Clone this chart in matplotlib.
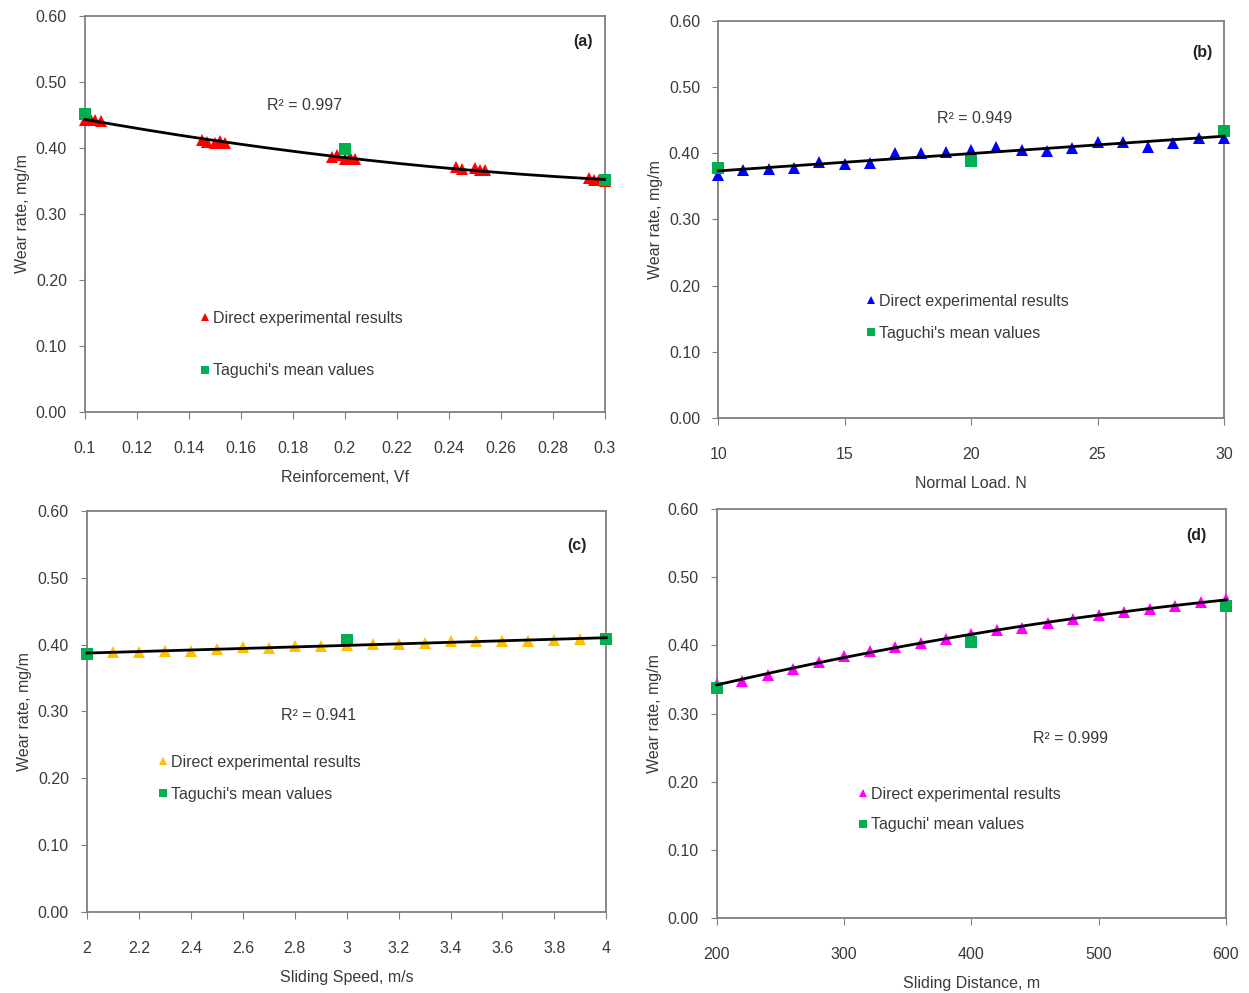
import numpy as np
import matplotlib
matplotlib.use('Agg')
import matplotlib.pyplot as plt

plt.rcParams['font.family'] = ['Liberation Sans', 'DejaVu Sans']

# (a) reinforcement
vf_direct = [0.100, 0.102, 0.104, 0.106, 0.145, 0.147, 0.150, 0.152, 0.154,
             0.195, 0.197, 0.200, 0.202, 0.204, 0.243, 0.245, 0.250, 0.252, 0.254,
             0.294, 0.296, 0.298, 0.300]
wr_vf_direct = [0.442, 0.445, 0.443, 0.441, 0.412, 0.409, 0.407, 0.410, 0.407,
                0.386, 0.389, 0.384, 0.387, 0.384, 0.371, 0.368, 0.369, 0.366, 0.366,
                0.354, 0.352, 0.351, 0.350]
vf_taguchi = [0.1, 0.2, 0.3]
wr_vf_taguchi = [0.451, 0.398, 0.352]

# (b) normal load
load_direct = list(range(10, 31))
wr_load_direct = [0.367, 0.374, 0.376, 0.377, 0.387, 0.384, 0.385, 0.400, 0.400, 0.402,
                  0.405, 0.410, 0.405, 0.404, 0.408, 0.417, 0.417, 0.410, 0.416, 0.423, 0.423]
load_taguchi = [10, 20, 30]
wr_load_taguchi = [0.377, 0.388, 0.433]

# (c) sliding speed
speed_direct = [2.0, 2.1, 2.2, 2.3, 2.4, 2.5, 2.6, 2.7, 2.8, 2.9, 3.0,
                3.1, 3.2, 3.3, 3.4, 3.5, 3.6, 3.7, 3.8, 3.9, 4.0]
wr_speed_direct = [0.386, 0.389, 0.389, 0.391, 0.391, 0.393, 0.396, 0.395, 0.398, 0.398, 0.399,
                   0.401, 0.401, 0.402, 0.405, 0.405, 0.406, 0.406, 0.407, 0.409, 0.410]
speed_taguchi = [2, 3, 4]
wr_speed_taguchi = [0.386, 0.407, 0.409]

# (d) sliding distance
dist_direct = list(range(200, 601, 20))
wr_dist_direct = [0.343, 0.348, 0.357, 0.366, 0.376, 0.384, 0.392, 0.398, 0.403, 0.410, 0.417,
                  0.422, 0.426, 0.433, 0.439, 0.444, 0.449, 0.453, 0.458, 0.464, 0.468]
dist_taguchi = [200, 400, 600]
wr_dist_taguchi = [0.338, 0.405, 0.458]

panels = [
    dict(rect=[0.068, 0.585, 0.416, 0.399], x=vf_direct, y=wr_vf_direct, tx=vf_taguchi, ty=wr_vf_taguchi,
         color='#FF0000', xlim=(0.1, 0.3), xticks=np.arange(0.1, 0.301, 0.02), deg=2,
         xticklabels=['0.1', '0.12', '0.14', '0.16', '0.18', '0.2', '0.22', '0.24', '0.26', '0.28', '0.3'],
         xlabel='Reinforcement, Vf', tag='(a)', r2='R² = 0.997', r2pos=(0.423, 0.775),
         leg=(0.207, 0.276), legsp=2.35, tagpos=(0.978, 0.935), tlab="Taguchi's mean values"),
    dict(rect=[0.575, 0.579, 0.405, 0.400], x=load_direct, y=wr_load_direct, tx=load_taguchi, ty=wr_load_taguchi,
         color='#0000FF', xlim=(10, 30), xticks=[10, 15, 20, 25, 30], deg=1,
         xticklabels=['10', '15', '20', '25', '30'],
         xlabel='Normal Load. N', tag='(b)', r2='R² = 0.949', r2pos=(0.506, 0.755),
         leg=(0.277, 0.333), legsp=1.05, tagpos=(0.978, 0.92), tlab="Taguchi's mean values"),
    dict(rect=[0.0697, 0.0816, 0.4157, 0.4038], x=speed_direct, y=wr_speed_direct, tx=speed_taguchi, ty=wr_speed_taguchi,
         color='#FFC000', xlim=(2, 4), xticks=np.arange(2, 4.01, 0.2), deg=1,
         xticklabels=['2', '2.2', '2.4', '2.6', '2.8', '3', '3.2', '3.4', '3.6', '3.8', '4'],
         xlabel='Sliding Speed, m/s', tag='(c)', r2='R² = 0.941', r2pos=(0.445, 0.49),
         leg=(0.122, 0.412), legsp=1.05, tagpos=(0.962, 0.915), tlab="Taguchi's mean values"),
    dict(rect=[0.574, 0.0755, 0.4076, 0.4119], x=dist_direct, y=wr_dist_direct, tx=dist_taguchi, ty=wr_dist_taguchi,
         color='#FF00FF', xlim=(200, 600), xticks=[200, 300, 400, 500, 600], deg=2,
         xticklabels=['200', '300', '400', '500', '600'],
         xlabel='Sliding Distance, m', tag='(d)', r2='R² = 0.999', r2pos=(0.695, 0.44),
         leg=(0.262, 0.34), legsp=0.95, tagpos=(0.962, 0.935), tlab="Taguchi' mean values"),
]

fig = plt.figure(figsize=(12.49, 9.93), dpi=100)
txtc = '#3a3a3a'

for p in panels:
    ax = fig.add_axes(p['rect'])
    ax.plot(p['x'], p['y'], '^', color=p['color'], ms=8.5, mew=0, label='Direct experimental results',
            zorder=3, clip_on=False)
    ax.plot(p['tx'], p['ty'], 's', color='#00B050', ms=8, mew=0, label=p['tlab'], zorder=4, clip_on=False)
    # trendline through the direct results
    coef = np.polyfit(p['x'], p['y'], p['deg'])
    xs = np.linspace(min(p['x']), max(p['x']), 200)
    ax.plot(xs, np.polyval(coef, xs), color='black', lw=2, zorder=5, clip_on=False)

    ax.set_xlim(*p['xlim'])
    ax.set_ylim(0, 0.6)
    ax.set_xticks(p['xticks'])
    ax.set_xticklabels(p['xticklabels'])
    ax.set_yticks(np.arange(0, 0.61, 0.1))
    ax.set_yticklabels(['%.2f' % v for v in np.arange(0, 0.61, 0.1)])
    ax.tick_params(axis='x', direction='out', length=5, pad=16, labelsize=11.5, colors='#7f7f7f', labelcolor=txtc)
    ax.tick_params(axis='y', direction='out', length=4, pad=9, labelsize=11.5, colors='#7f7f7f', labelcolor=txtc)
    for s in ax.spines.values():
        s.set_color('#7f7f7f')
        s.set_linewidth(1.3)
    ax.set_xlabel(p['xlabel'], fontsize=11.5, color=txtc, labelpad=10)
    ax.set_ylabel('Wear rate, mg/m', fontsize=11.5, color=txtc, labelpad=4)

    ax.text(p['tagpos'][0], p['tagpos'][1], p['tag'], transform=ax.transAxes, fontsize=11.5,
            fontweight='bold', ha='right', va='center', color='#222222')
    ax.text(p['r2pos'][0], p['r2pos'][1], p['r2'], transform=ax.transAxes, fontsize=11.5,
            ha='center', va='center', color=txtc)
    ax.legend(loc='upper left', bbox_to_anchor=p['leg'], frameon=False, fontsize=11.5,
              handlelength=0.6, handletextpad=0.2, labelspacing=p['legsp'], borderpad=0,
              labelcolor=txtc, markerscale=0.7)

fig.savefig('out.png', dpi=100)
